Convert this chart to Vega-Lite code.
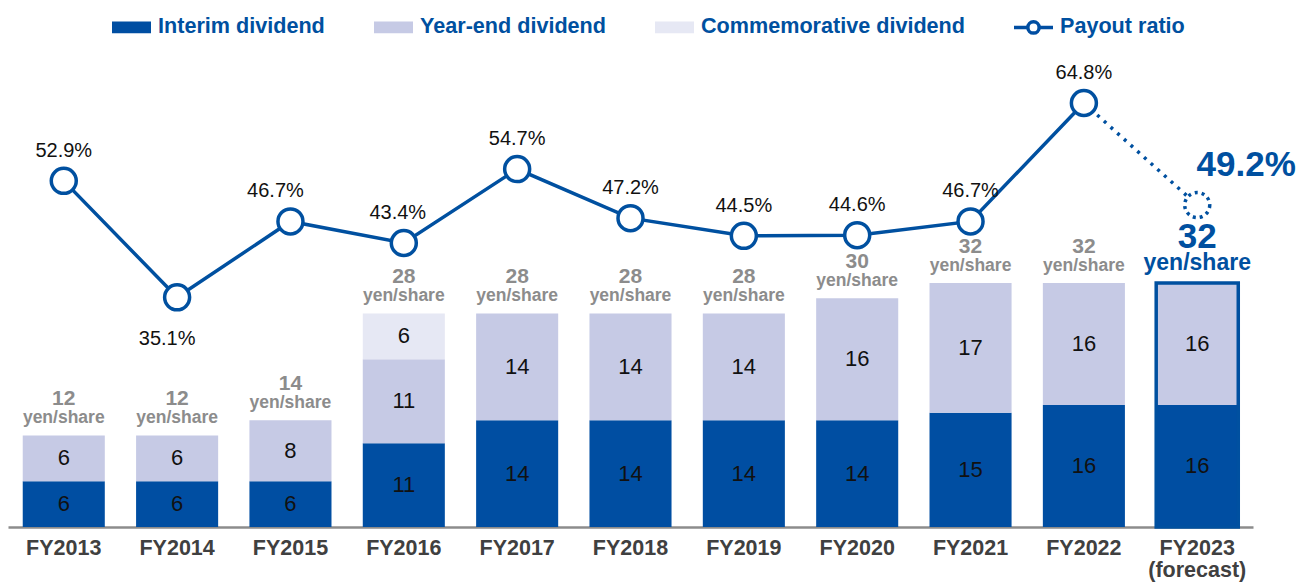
{
  "$schema": "https://vega.github.io/schema/vega-lite/v6.json",
  "width": 1245,
  "height": 467,
  "autosize": {"type": "none"},
  "padding": {"left": 8, "top": 60, "right": 43, "bottom": 55},
  "background": "white",
  "config": {"view": {"stroke": null}, "font": "Liberation Sans", "text": {"font": "Liberation Sans"}},
  "datasets": {
    "div": [
      {"year": "FY2013", "type": "Interim dividend", "value": 6},
      {"year": "FY2013", "type": "Year-end dividend", "value": 6},
      {"year": "FY2014", "type": "Interim dividend", "value": 6},
      {"year": "FY2014", "type": "Year-end dividend", "value": 6},
      {"year": "FY2015", "type": "Interim dividend", "value": 6},
      {"year": "FY2015", "type": "Year-end dividend", "value": 8},
      {"year": "FY2016", "type": "Interim dividend", "value": 11},
      {"year": "FY2016", "type": "Year-end dividend", "value": 11},
      {"year": "FY2016", "type": "Commemorative dividend", "value": 6},
      {"year": "FY2017", "type": "Interim dividend", "value": 14},
      {"year": "FY2017", "type": "Year-end dividend", "value": 14},
      {"year": "FY2018", "type": "Interim dividend", "value": 14},
      {"year": "FY2018", "type": "Year-end dividend", "value": 14},
      {"year": "FY2019", "type": "Interim dividend", "value": 14},
      {"year": "FY2019", "type": "Year-end dividend", "value": 14},
      {"year": "FY2020", "type": "Interim dividend", "value": 14},
      {"year": "FY2020", "type": "Year-end dividend", "value": 16},
      {"year": "FY2021", "type": "Interim dividend", "value": 15},
      {"year": "FY2021", "type": "Year-end dividend", "value": 17},
      {"year": "FY2022", "type": "Interim dividend", "value": 16},
      {"year": "FY2022", "type": "Year-end dividend", "value": 16},
      {"year": "FY2023", "type": "Interim dividend", "value": 16},
      {"year": "FY2023", "type": "Year-end dividend", "value": 16}
    ],
    "tot": [
      {"year": "FY2013", "total": 12},
      {"year": "FY2014", "total": 12},
      {"year": "FY2015", "total": 14},
      {"year": "FY2016", "total": 28},
      {"year": "FY2017", "total": 28},
      {"year": "FY2018", "total": 28},
      {"year": "FY2019", "total": 28},
      {"year": "FY2020", "total": 30},
      {"year": "FY2021", "total": 32},
      {"year": "FY2022", "total": 32},
      {"year": "FY2023", "total": 32}
    ],
    "pay": [
      {"year": "FY2013", "ratio": 52.9},
      {"year": "FY2014", "ratio": 35.1},
      {"year": "FY2015", "ratio": 46.7},
      {"year": "FY2016", "ratio": 43.4},
      {"year": "FY2017", "ratio": 54.7},
      {"year": "FY2018", "ratio": 47.2},
      {"year": "FY2019", "ratio": 44.5},
      {"year": "FY2020", "ratio": 44.6},
      {"year": "FY2021", "ratio": 46.7},
      {"year": "FY2022", "ratio": 64.8},
      {"year": "FY2023", "ratio": 49.2}
    ]
  },
  "encoding": {
    "x": {
      "field": "year",
      "type": "nominal",
      "sort": null,
      "scale": {"domain": ["FY2013","FY2014","FY2015","FY2016","FY2017","FY2018","FY2019","FY2020","FY2021","FY2022","FY2023"], "paddingInner": 0.276, "paddingOuter": 0.13},
      "axis": {
        "title": null,
        "domainColor": "#8c8c8c",
        "domainWidth": 2.5,
        "ticks": false,
        "labelAngle": 0,
        "labelFont": "Liberation Sans",
        "labelFontSize": 21.5,
        "labelFontWeight": "bold",
        "labelColor": "#404040",
        "labelPadding": 10,
        "labelLineHeight": 22,
        "labelExpr": "datum.value == 'FY2023' ? ['FY2023', '(forecast)'] : datum.value"
      }
    }
  },
  "layer": [
    {
      "layer": [
        {
          "data": {"name": "div"},
          "transform": [{"calculate": "indexof(['Interim dividend','Year-end dividend','Commemorative dividend'], datum.type)", "as": "ord"}],
          "mark": {"type": "bar"},
          "encoding": {
            "y": {"field": "value", "type": "quantitative", "stack": "zero", "scale": {"domain": [0, 61.25]}, "axis": null},
            "order": {"field": "ord", "type": "quantitative", "sort": "ascending"},
            "color": {
              "field": "type",
              "type": "nominal",
              "scale": {
                "domain": ["Interim dividend", "Year-end dividend", "Commemorative dividend", "Payout ratio"],
                "range": ["#004ea2", "#c6cae5", "#e6e8f4", "#ffffff"]
              },
              "legend": {
                "title": null,
                "orient": "none",
                "legendX": 102,
                "legendY": -54.5,
                "direction": "horizontal",
                "columnPadding": 42,
                "symbolSize": 1521,
                "labelOffset": 5,
                "labelFont": "Liberation Sans",
                "labelFontSize": 21.6,
                "labelFontWeight": "bold",
                "labelColor": "#0050a0",
                "labelLimit": 400,
                "padding": 0,
                "encode": {
                  "symbols": {
                    "update": {
                      "shape": {"signal": "datum.value === 'Payout ratio' ? 'M-1,0H-0.29M0.29,0H1M-0.29,0A0.29,0.29 0 1,1 0.29,0A0.29,0.29 0 1,1 -0.29,0Z' : 'M-1,-0.3H1V0.3H-1Z'"},
                      "fill": {"signal": "datum.value === 'Payout ratio' ? '#ffffff' : datum.value === 'Interim dividend' ? '#004ea2' : datum.value === 'Year-end dividend' ? '#c6cae5' : '#e6e8f4'"},
                      "stroke": {"signal": "datum.value === 'Payout ratio' ? '#004ea2' : 'transparent'"},
                      "strokeWidth": {"value": 3.5},
                      "opacity": {"value": 1}
                    }
                  }
                }
              }
            }
          }
        },
        {
          "data": {"name": "tot"},
          "transform": [{"filter": "datum.year === 'FY2023'"}],
          "mark": {"type": "bar", "fillOpacity": 0, "stroke": "#0050a0", "strokeWidth": 3.5},
          "encoding": {
            "y": {"field": "total", "type": "quantitative", "scale": {"domain": [0, 61.25]}, "axis": null}
          }
        },
        {
          "data": {"name": "div"},
          "transform": [
            {"calculate": "indexof(['Interim dividend','Year-end dividend','Commemorative dividend'], datum.type)", "as": "ord"},
            {"stack": "value", "groupby": ["year"], "sort": [{"field": "ord", "order": "ascending"}], "as": ["v0", "v1"]},
            {"calculate": "(datum.v0 + datum.v1) / 2", "as": "mid"}
          ],
          "mark": {"type": "text", "fontSize": 22, "color": "#111111", "baseline": "middle"},
          "encoding": {
            "y": {"field": "mid", "type": "quantitative", "scale": {"domain": [0, 61.25]}, "axis": null},
            "text": {"field": "value", "type": "quantitative"}
          }
        },
        {
          "data": {"name": "tot"},
          "transform": [{"filter": "datum.year !== 'FY2023'"}],
          "mark": {"type": "text", "fontSize": 21, "fontWeight": "bold", "color": "#8c8c8c", "baseline": "alphabetic", "dy": -30.5},
          "encoding": {
            "y": {"field": "total", "type": "quantitative", "scale": {"domain": [0, 61.25]}, "axis": null},
            "text": {"field": "total", "type": "quantitative"}
          }
        },
        {
          "data": {"name": "tot"},
          "transform": [{"filter": "datum.year !== 'FY2023'"}],
          "mark": {"type": "text", "fontSize": 17.5, "fontWeight": "bold", "color": "#8c8c8c", "baseline": "alphabetic", "dy": -12.5, "text": "yen/share"},
          "encoding": {
            "y": {"field": "total", "type": "quantitative", "scale": {"domain": [0, 61.25]}, "axis": null}
          }
        },
        {
          "data": {"name": "tot"},
          "transform": [{"filter": "datum.year === 'FY2023'"}],
          "mark": {"type": "text", "fontSize": 35, "fontWeight": "bold", "color": "#0050a0", "baseline": "alphabetic", "dy": -35},
          "encoding": {
            "y": {"field": "total", "type": "quantitative", "scale": {"domain": [0, 61.25]}, "axis": null},
            "text": {"field": "total", "type": "quantitative"}
          }
        },
        {
          "data": {"name": "tot"},
          "transform": [{"filter": "datum.year === 'FY2023'"}],
          "mark": {"type": "text", "fontSize": 23, "fontWeight": "bold", "color": "#0050a0", "baseline": "alphabetic", "dy": -13, "text": "yen/share"},
          "encoding": {
            "y": {"field": "total", "type": "quantitative", "scale": {"domain": [0, 61.25]}, "axis": null}
          }
        }
      ]
    },
    {
      "data": {"name": "pay"},
      "transform": [{"calculate": "format(datum.ratio, '.1f') + '%'", "as": "lab"}],
      "layer": [
        {
          "transform": [{"filter": "datum.year !== 'FY2023'"}],
          "mark": {"type": "line", "color": "#0050a0", "strokeWidth": 3.5},
          "encoding": {"y": {"field": "ratio", "type": "quantitative", "scale": {"domain": [0, 71.37]}, "axis": null}}
        },
        {
          "transform": [{"filter": "datum.year === 'FY2022' || datum.year === 'FY2023'"}],
          "mark": {"type": "line", "color": "#0050a0", "strokeWidth": 3.5, "strokeDash": [3, 6]},
          "encoding": {"y": {"field": "ratio", "type": "quantitative", "scale": {"domain": [0, 71.37]}, "axis": null}}
        },
        {
          "transform": [{"filter": "datum.year !== 'FY2023'"}],
          "mark": {"type": "point", "shape": "circle", "filled": true, "fill": "white", "stroke": "#0050a0", "strokeWidth": 3.5, "size": 625, "opacity": 1},
          "encoding": {"y": {"field": "ratio", "type": "quantitative", "scale": {"domain": [0, 71.37]}, "axis": null}}
        },
        {
          "transform": [{"filter": "datum.year === 'FY2023'"}],
          "mark": {"type": "point", "shape": "circle", "filled": true, "fill": "white", "stroke": "#0050a0", "strokeWidth": 3.5, "size": 625, "opacity": 1, "strokeDash": [3, 4]},
          "encoding": {"y": {"field": "ratio", "type": "quantitative", "scale": {"domain": [0, 71.37]}, "axis": null}}
        },
        {
          "transform": [{"filter": "datum.year !== 'FY2023' && datum.year !== 'FY2014' && datum.year !== 'FY2015' && datum.year !== 'FY2016'"}],
          "mark": {"type": "text", "fontSize": 20, "color": "#111111", "baseline": "alphabetic", "dy": -24},
          "encoding": {
            "y": {"field": "ratio", "type": "quantitative", "scale": {"domain": [0, 71.37]}, "axis": null},
            "text": {"field": "lab", "type": "nominal"}
          }
        },
        {
          "transform": [{"filter": "datum.year === 'FY2015'"}],
          "mark": {"type": "text", "fontSize": 20, "color": "#111111", "baseline": "alphabetic", "dy": -24, "dx": -15},
          "encoding": {
            "y": {"field": "ratio", "type": "quantitative", "scale": {"domain": [0, 71.37]}, "axis": null},
            "text": {"field": "lab", "type": "nominal"}
          }
        },
        {
          "transform": [{"filter": "datum.year === 'FY2016'"}],
          "mark": {"type": "text", "fontSize": 20, "color": "#111111", "baseline": "alphabetic", "dy": -24, "dx": -6},
          "encoding": {
            "y": {"field": "ratio", "type": "quantitative", "scale": {"domain": [0, 71.37]}, "axis": null},
            "text": {"field": "lab", "type": "nominal"}
          }
        },
        {
          "transform": [{"filter": "datum.year === 'FY2014'"}],
          "mark": {"type": "text", "fontSize": 20, "color": "#111111", "baseline": "alphabetic", "dy": 48, "dx": -10},
          "encoding": {
            "y": {"field": "ratio", "type": "quantitative", "scale": {"domain": [0, 71.37]}, "axis": null},
            "text": {"field": "lab", "type": "nominal"}
          }
        },
        {
          "transform": [{"filter": "datum.year === 'FY2023'"}],
          "mark": {"type": "text", "fontSize": 35, "fontWeight": "bold", "color": "#0050a0", "baseline": "alphabetic", "dy": -29.5, "dx": 49},
          "encoding": {
            "y": {"field": "ratio", "type": "quantitative", "scale": {"domain": [0, 71.37]}, "axis": null},
            "text": {"field": "lab", "type": "nominal"}
          }
        }
      ]
    }
  ],
  "resolve": {"scale": {"y": "independent"}}
}
